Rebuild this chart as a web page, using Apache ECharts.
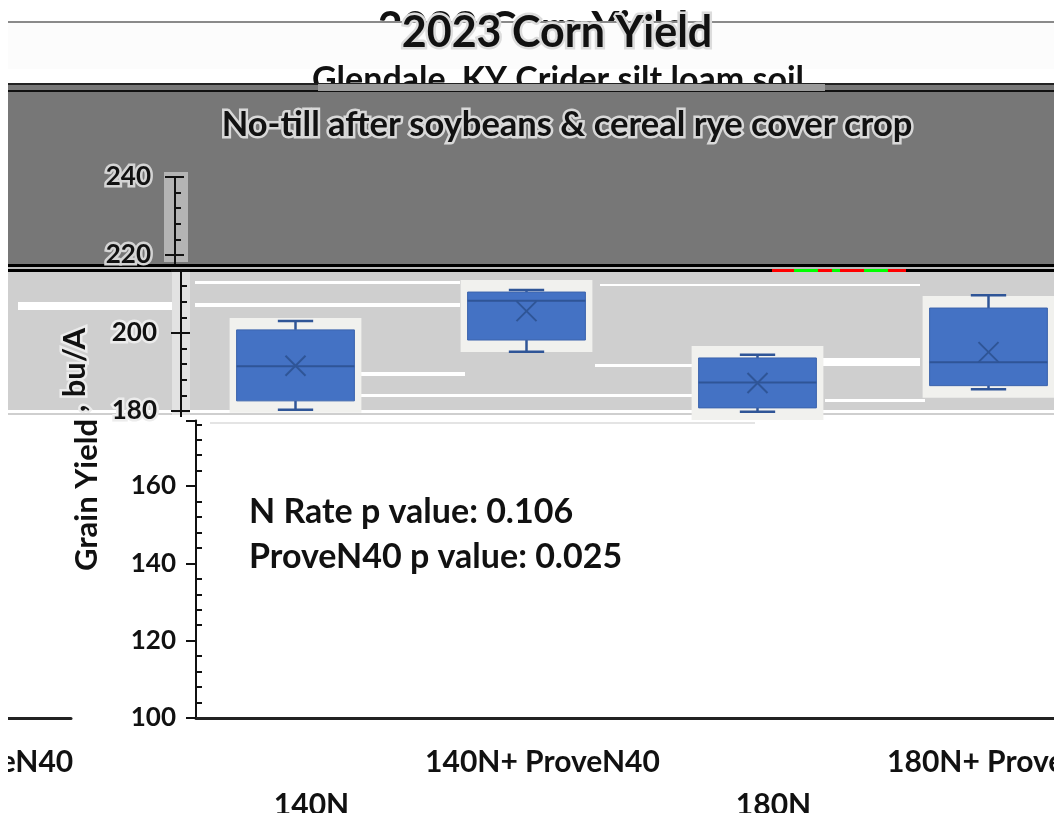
<!DOCTYPE html>
<html><head><meta charset="utf-8">
<style>html,body{margin:0;padding:0;background:#fff}#c{width:1061px;height:813px}</style>
<script src="https://cdn.jsdelivr.net/npm/echarts@6/dist/echarts.min.js"></script>
</head><body><div id="c"></div>
<script>
var categories = ['140N', '140N+ ProveN40', '180N', '180N+ ProveN40'];
var lowValues = [180.3, 195.2, 179.8, 185.6];
var q1Values = [182.6, 198.2, 180.8, 186.5];
var medianValues = [191.5, 208.3, 187.3, 192.5];
var q3Values = [200.8, 210.5, 193.6, 206.4];
var highValues = [203.1, 211.0, 194.4, 209.7];
var meanValues = [191.6, 205.6, 187.2, 195.1];
var titleText = '2023 Corn Yield';
var subTitleText = 'Glendale, KY Crider silt loam soil';
var thirdTitleText = 'No-till after soybeans & cereal rye cover crop';
var pValueLines = ['N Rate p value: 0.106', 'ProveN40 p value: 0.025'];
var axisTitleParts = ['Grain Yield', ', bu/A'];

var FONT = 'Lato, "Open Sans", sans-serif';
var INK = '#111';
function rect(x, y, w, h, fill, z) {
  return {type: 'rect', z: z == null ? -1 : z, silent: true, shape: {x: x, y: y, width: w, height: h}, style: {fill: fill}};
}
function text(t, x, y, size, o) {
  o = o || {};
  return {type: 'text', z: o.z == null ? 30 : o.z, x: x, y: y, rotation: o.rot || 0, silent: true,
    style: {text: t, font: 'bold ' + size + 'px ' + FONT, fill: INK, align: o.align || 'center', verticalAlign: 'middle',
      stroke: o.halo || null, lineWidth: o.halo ? 5 : 0, strokeFirst: true}};
}
var elements = [
  rect(0, 0, 1061, 813, '#fff'),
  text(titleText, 533, 29, 43, {z: -1}),
  rect(8, 21, 1053, 2, '#8a8a8a'),
  rect(8, 23, 1053, 46, '#fcfcfc'),
  text(subTitleText, 558, 80, 34, {z: -1}),
  rect(8, 84, 1053, 181, '#777777'),
  rect(8, 83, 1053, 2, '#222'),
  rect(8, 90, 1053, 2, '#111'),
  rect(318, 84, 507, 7, '#9b9b9b'),
  rect(8, 264, 1053, 3, '#000'),
  rect(8, 267, 1053, 2, '#bdbdbd'),
  rect(8, 269, 1053, 3, '#000'),
  rect(8, 272, 1053, 143, '#cfcfcf'),
  rect(18, 302, 155, 8, '#fff'),
  rect(195, 281, 265, 3, '#fff'),
  rect(195, 303, 265, 4, '#fff'),
  rect(360, 372, 105, 4, '#fff'),
  rect(360, 394, 340, 3, '#fff'),
  rect(600, 284, 320, 2, '#fff'),
  rect(595, 364, 100, 3, '#fff'),
  rect(820, 358, 100, 8, '#fff'),
  rect(825, 399, 100, 3, '#fff'),
  rect(8, 410, 1053, 3, '#fff'),
  rect(210, 422, 545, 2, '#e4e4e4')
];
var seg = [[772,22,'#f00'],[794,24,'#0f0'],[818,14,'#f00'],[832,8,'#0f0'],[840,24,'#f00'],[864,24,'#0f0'],[888,18,'#f00']];
seg.forEach(function (s) { elements.push(rect(s[0], 269, s[1], 3, s[2])); });
elements.push(
  rect(164, 172, 24, 90, '#b4b4b4'),
  rect(172, 272, 18, 143, '#e2e2e2'),
  {type: 'line', z: 5, silent: true, shape: {x1: 175, y1: 255, x2: 175, y2: 264}, style: {stroke: INK, lineWidth: 2}},
  {type: 'line', z: 5, silent: true, shape: {x1: 181, y1: 411, x2: 181, y2: 417}, style: {stroke: INK, lineWidth: 2}},
  text(titleText, 557, 33, 43, {halo: '#dcdcdc'}),
  text(thirdTitleText, 567, 125, 34.5, {halo: '#d8d8d8'}),
  text(pValueLines[0], 249, 512, 34, {align: 'left'}),
  text(pValueLines[1], 249, 557, 34, {align: 'left'}),
  text(axisTitleParts[0], 87, 495, 31, {rot: Math.PI / 2}),
  text(axisTitleParts[1], 75, 370, 31, {rot: Math.PI / 2, halo: '#ececec'}),
  rect(0, 0, 8, 813, '#fff', 100),
  rect(1054, 0, 7, 813, '#fff', 100)
);

function valueAxis(gridIndex, min, max, margin, halo) {
  return {
    type: 'value', gridIndex: gridIndex, position: 'left', min: min, max: max, interval: 20, z: 5,
    axisLine: {show: true, onZero: false, lineStyle: {color: INK, width: 2}},
    axisTick: {show: true, length: 10, lineStyle: {color: INK, width: 2}},
    minorTick: {show: true, splitNumber: 5, length: -6, lineStyle: {color: INK, width: 2}},
    splitLine: {show: false}, minorSplitLine: {show: false},
    axisLabel: {
      margin: margin, showMaxLabel: max % 20 === 0, color: INK, fontFamily: FONT, fontWeight: 'bold', fontSize: 26,
      textBorderColor: halo || 'transparent', textBorderWidth: halo ? 5 : 0,
      formatter: function (v) { return v % 20 === 0 ? String(v) : ''; }
    }
  };
}
function innerTickAxis(gridIndex, min, max, offset) {
  return {
    type: 'value', gridIndex: gridIndex, position: 'left', offset: offset, min: min, max: max, interval: 20, z: 5,
    axisLine: {show: false}, splitLine: {show: false}, axisLabel: {show: false},
    axisTick: {show: true, inside: true, length: 9, lineStyle: {color: INK, width: 2}}
  };
}
function catAxis(gridIndex, shown) {
  return {
    type: 'category', gridIndex: gridIndex, data: categories, z: 5,
    axisLine: {show: shown, onZero: false, lineStyle: {color: '#222', width: 3}},
    axisTick: {show: false}, splitLine: {show: false},
    axisLabel: {
      show: shown, interval: 0, margin: 23, lineHeight: 43, color: INK, fontFamily: FONT, fontWeight: 'bold', fontSize: 30,
      hideOverlap: false,
      formatter: function (v) { return categories.indexOf(v) % 2 === 0 ? '\n' + v : v; }
    }
  };
}
function renderBox(params, api) {
  var i = api.value(0);
  var low = api.coord([i, api.value(1)]), q1 = api.coord([i, api.value(2)]), med = api.coord([i, api.value(3)]);
  var q3 = api.coord([i, api.value(4)]), high = api.coord([i, api.value(5)]), mean = api.coord([i, api.value(6)]);
  var halfBox = api.size([1, 0])[0] * 0.255, halfCap = halfBox * 0.3, m = 7, cx = q1[0];
  function ln(a, b, c, d, w) {
    return {type: 'line', shape: {x1: a, y1: b, x2: c, y2: d}, style: {stroke: '#2f5597', lineWidth: w || 2}};
  }
  return {type: 'group', children: [
    {type: 'rect', shape: {x: cx - halfBox - m, y: q3[1] - m - 5, width: 2 * halfBox + 2 * m, height: q1[1] - q3[1] + 2 * m + 10}, style: {fill: '#f1f1ee'}},
    ln(cx, high[1], cx, q3[1], 2.5), ln(cx, low[1], cx, q1[1], 2.5),
    ln(cx - halfCap, high[1], cx + halfCap, high[1], 2.5), ln(cx - halfCap, low[1], cx + halfCap, low[1], 2.5),
    {type: 'rect', shape: {x: cx - halfBox, y: q3[1], width: 2 * halfBox, height: q1[1] - q3[1]}, style: {fill: '#4472c4', stroke: '#3c64ad', lineWidth: 1}},
    ln(cx - halfBox, med[1], cx + halfBox, med[1]),
    ln(cx - 10, mean[1] - 10, cx + 10, mean[1] + 10), ln(cx - 10, mean[1] + 10, cx + 10, mean[1] - 10)
  ]};
}
var seriesData = categories.map(function (c, i) {
  return [i, lowValues[i], q1Values[i], medianValues[i], q3Values[i], highValues[i], meanValues[i]];
});
var xA = catAxis(0, false), xB = catAxis(1, false), xC = catAxis(2, true), xD = catAxis(3, true);
var yD = valueAxis(3, 100, 177, 20); yD.show = false;
var option = {
  animation: false,
  backgroundColor: 'transparent',
  graphic: {elements: elements},
  grid: [
    {left: 175, top: 177, width: 886, height: 78, outerBoundsMode: 'none'},
    {left: 180, top: 270.6, width: 924, height: 140.4, outerBoundsMode: 'none'},
    {left: 196, top: 420.4, width: 924, height: 297.6, outerBoundsMode: 'none'},
    {left: -850, top: 420.4, width: 921, height: 297.6, outerBoundsMode: 'none'}
  ],
  xAxis: [xA, xB, xC, xD],
  yAxis: [
    valueAxis(0, 220, 240, 24, '#d4d4d4'),
    Object.assign(valueAxis(1, 180, 216, 24, '#ececec'), {offset: -1}),
    valueAxis(2, 100, 177, 20),
    yD,
    innerTickAxis(0, 220, 240, 0),
    innerTickAxis(1, 180, 216, -1)
  ],
  series: [{
    type: 'custom', coordinateSystem: 'cartesian2d', xAxisIndex: 1, yAxisIndex: 1, z: 6, clip: false,
    encode: {x: 0, y: [1, 2, 3, 4, 5, 6]}, data: seriesData, renderItem: renderBox
  }]
};
echarts.init(document.getElementById('c'), null, {renderer: 'canvas'}).setOption(option);
</script></body></html>
